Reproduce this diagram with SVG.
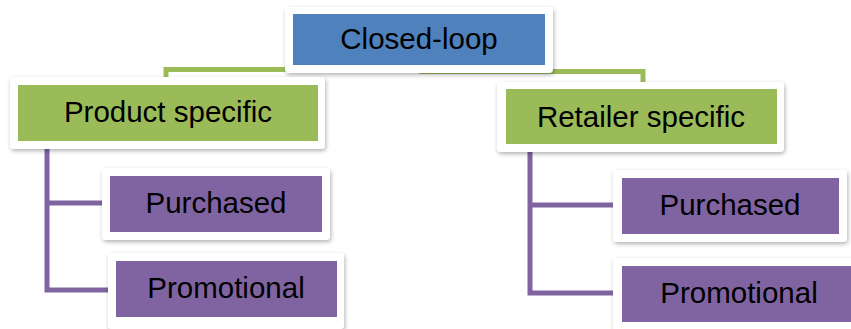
<svg xmlns="http://www.w3.org/2000/svg" width="851" height="329" viewBox="0 0 851 329">
<style>
.frame{fill:#fff;filter:url(#sh)}
.blue{fill:#4F81BD}
.green{fill:#9BBB59}
.purple{fill:#8064A2}
.lbl{font-family:"Liberation Sans",Arial,sans-serif;font-size:29.5px;fill:#000;text-anchor:middle}
.cg{fill:none;stroke:#9BBB59;stroke-width:5}
.cp{fill:none;stroke:#8064A2;stroke-width:5}
</style>
<defs>
<filter id="sh" x="-10%" y="-20%" width="120%" height="150%">
<feDropShadow dx="1" dy="2" stdDeviation="2" flood-color="#000" flood-opacity="0.3"/>
</filter>
</defs>
<rect width="851" height="329" fill="#fff"/>
<g id="connectors">
<path class="cg" d="M166,84 V69.5 H419"/>
<path class="cg" d="M419,71.5 H643 V88"/>
<path class="cp" d="M47,148 V290 H112 M47,203 H105"/>
<path class="cp" d="M530,150 V293 H616 M530,205 H616"/>
</g>
<g id="closed-loop">
<rect class="frame" x="285" y="7" width="268" height="66" rx="4"/>
<rect class="blue" x="293" y="14" width="252" height="51"/>
<text class="lbl" x="419" y="49">Closed-loop</text>
</g>
<g id="product-specific">
<rect class="frame" x="10" y="77" width="315" height="72" rx="4"/>
<rect class="green" x="18" y="85" width="300" height="56"/>
<text class="lbl" x="168" y="122">Product specific</text>
</g>
<g id="retailer-specific">
<rect class="frame" x="497" y="82" width="287" height="70" rx="4"/>
<rect class="green" x="506" y="89" width="271" height="55"/>
<text class="lbl" x="641" y="127">Retailer specific</text>
</g>
<g id="purchased-left">
<rect class="frame" x="102" y="168" width="228" height="72" rx="4"/>
<rect class="purple" x="110" y="176" width="212" height="56"/>
<text class="lbl" x="216" y="213">Purchased</text>
</g>
<g id="promotional-left">
<rect class="frame" x="108" y="253" width="236" height="76" rx="4"/>
<rect class="purple" x="116" y="261" width="221" height="56"/>
<text class="lbl" x="226" y="298">Promotional</text>
</g>
<g id="purchased-right">
<rect class="frame" x="613" y="170" width="234" height="72" rx="4"/>
<rect class="purple" x="622" y="178" width="217" height="56"/>
<text class="lbl" x="730" y="215">Purchased</text>
</g>
<g id="promotional-right">
<rect class="frame" x="613" y="258" width="245" height="76" rx="4"/>
<rect class="purple" x="622" y="266" width="235" height="56"/>
<text class="lbl" x="739" y="303">Promotional</text>
</g>
</svg>
